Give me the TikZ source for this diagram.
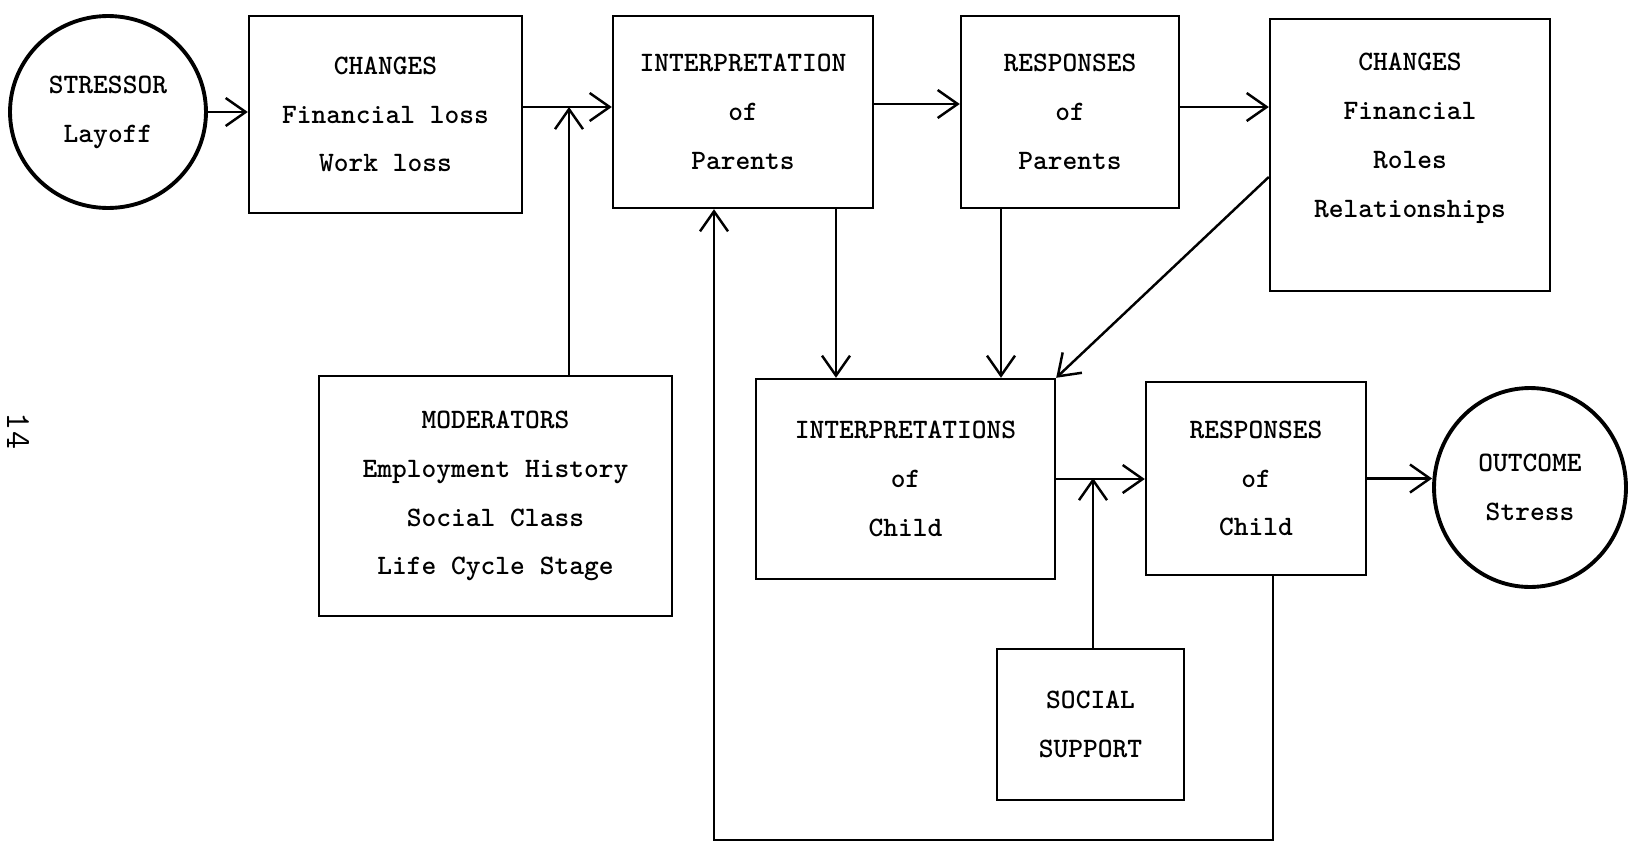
\documentclass[tikz,border=0pt]{standalone}
\usepackage{tikz}
\usetikzlibrary{shapes.geometric}
\usetikzlibrary{arrows.meta}

\begin{document}
\begin{tikzpicture}[x=0.02cm,y=-0.02cm,>={Straight Barb[length=4mm,width=5.6mm]},line width=1.4pt,
	main node/.style={rectangle,draw,align=center,font=\fontsize{16}{27.8}\selectfont\ttfamily\bfseries},
	end node/.style={ellipse,draw,line width=2.2pt,inner sep=0pt,align=center,font=\fontsize{16}{27.8}\selectfont\ttfamily\bfseries}]
	\useasboundingbox (0,0) rectangle (1629,849);
	% Nodes
	  % Row1
	  \node (stressor) at (108,112) [end node, minimum width=3.92cm, minimum height=3.84cm] {STRESSOR\\Layoff};
	  \node (chg1) at (385.5,114.5) [main node, minimum width=5.46cm, minimum height=3.94cm] {CHANGES\\Financial loss\\Work loss};
	  \node (intp) at (743,112) [main node, minimum width=5.2cm, minimum height=3.84cm] {INTERPRETATION\\of\\Parents};
	  \node (resp) at (1070,112) [main node, minimum width=4.36cm, minimum height=3.84cm] {RESPONSES\\of\\Parents};
	  \node (chg2) at (1410,155) [main node, minimum width=5.6cm, minimum height=5.44cm] {CHANGES\\Financial\\Roles\\Relationships\\[-0.5\baselineskip]\strut};

	  % Row2
	  \node (moder) at (495.5,496) [main node, minimum width=7.06cm, minimum height=4.8cm] {MODERATORS\\Employment History\\Social Class\\Life Cycle Stage};
	  \node (intc) at (905.5,479) [main node, minimum width=5.98cm, minimum height=4cm] {INTERPRETATIONS\\of\\Child};
	  \node (resc) at (1256,478.5) [main node, minimum width=4.4cm, minimum height=3.86cm] {RESPONSES\\of\\Child};
	  \node (outc) at (1530,487.5) [end node, minimum width=3.84cm, minimum height=3.98cm] {OUTCOME\\Stress};

	  % Row3
	  \node (soc) at (1090.5,724.5) [main node, minimum width=3.74cm, minimum height=3.02cm] {SOCIAL\\SUPPORT};

	  \node (page) at (18,431) [rotate=-90, font=\fontsize{20}{24}\selectfont\ttfamily] {14};

	  \coordinate (j1) at (569,107);
	  \coordinate (j2) at (1093,478);
	  \coordinate (fb1) at (1273,840);
	  \coordinate (fb2) at (714,840);

	% Edges
	  \draw[->] (stressor.east) -- (stressor.east -| chg1.west);
	  \draw[->] (chg1.east |- j1) -- (intp.west |- j1);
	  \draw[->] (moder.north -| j1) -- (j1);
	  \draw[->] ([yshift=0.16cm]intp.east) -- ([yshift=0.16cm]intp.east -| resp.west);
	  \draw[->] ([yshift=0.1cm]resp.east) -- ([yshift=0.1cm]resp.east -| chg2.west);

	  \draw[->] (intp.south -| 836,0) -- (intc.north -| 836,0);
	  \draw[->] (resp.south -| 1001,0) -- (intc.north -| 1001,0);
	  \draw[->] ([yshift=-0.44cm]chg2.west) -- (intc.north east);

	  \draw[->] (intc.east) -- (intc.east -| resc.west);
	  \draw[->] (soc.north -| j2) -- (j2);
	  \draw[->] (resc.east) -- (resc.east -| outc.west);

	  \draw[->] (resc.south -| fb1) -- (fb1) -- (fb2) -- (intp.south -| fb2);
\end{tikzpicture}
\end{document}
